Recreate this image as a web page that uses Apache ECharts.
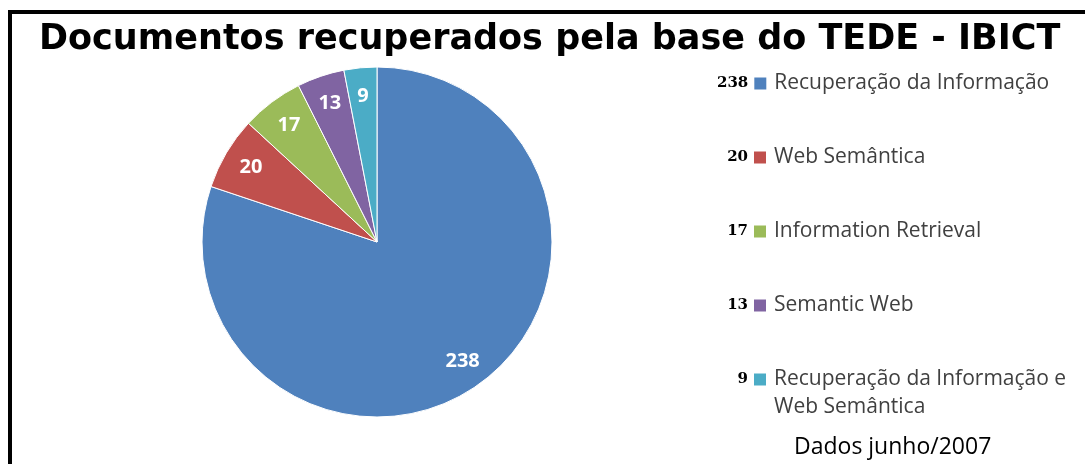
<!DOCTYPE html>
<html>
<head>
<meta charset="utf-8">
<script src="https://cdn.jsdelivr.net/npm/echarts@6/dist/echarts.min.js"></script>
<style>
html, body { margin: 0; padding: 0; background: #fff; overflow: hidden; }
#frame { position: absolute; left: 8px; top: 10px; width: 1100px; height: 470px; border-top: 4px solid #000; border-left: 4px solid #000; }
#chart { position: absolute; left: 0; top: 0; width: 1085px; height: 464px; }
</style>
</head>
<body>
<div id="frame"></div>
<div id="chart"></div>
<script>
var categories = ['Recuperação da Informação', 'Web Semântica', 'Information Retrieval', 'Semantic Web', 'Recuperação da Informação e\nWeb Semântica'];
var values = [238, 20, 17, 13, 9];
var colors = ['#4F81BD', '#C0504D', '#9BBB59', '#8064A2', '#4BACC6'];
var titleText = 'Documentos recuperados pela base do TEDE - IBICT';
var noteText = 'Dados junho/2007';

var chart = echarts.init(document.getElementById('chart'));

// numbers in front of the legend squares are right aligned
var numFont = 'bold 15px "DejaVu Serif"';
var ctx = document.createElement('canvas').getContext('2d');
ctx.font = numFont;
var NUM_BOX = 31;

var pieData = [];
var rich = {
    num: { fontFamily: 'DejaVu Serif', fontWeight: 'bold', fontSize: 15, color: '#000', lineHeight: 28 },
    g6: { width: 6 },
    g8: { width: 8 },
    indent: { width: NUM_BOX + 6 + 12 + 8 },
    name: { fontFamily: 'Open Sans', fontSize: 21, color: '#404040', lineHeight: 28 }
};
for (var i = 0; i < categories.length; i++) {
    pieData.push({ name: categories[i], value: values[i], itemStyle: { color: colors[i] } });
    rich['pad' + i] = { width: Math.max(0, NUM_BOX - ctx.measureText(String(values[i])).width) };
    rich['sq' + i] = { width: 12, height: 12, backgroundColor: colors[i] };
}

var option = {
    backgroundColor: 'transparent',
    animation: false,
    title: [{
        text: titleText,
        left: 34,
        top: 17,
        textStyle: { fontFamily: 'DejaVu Sans', fontWeight: 'bold', fontSize: 35, color: '#000' }
    }, {
        text: noteText,
        left: 789,
        top: 431,
        textStyle: { fontFamily: 'Open Sans', fontWeight: 'normal', fontSize: 23, color: '#000' }
    }],
    legend: {
        orient: 'vertical',
        left: 707,
        top: 68,
        itemGap: 53,
        itemWidth: 0,
        itemHeight: 0,
        icon: 'none',
        selectedMode: false,
        data: categories,
        formatter: function(name) {
            var i = categories.indexOf(name);
            var lines = name.split('\n');
            var s = '{pad' + i + '|}{num|' + values[i] + '}{g6|}{sq' + i + '|}{g8|}{name|' + lines[0] + '}';
            for (var k = 1; k < lines.length; k++) {
                s += '\n{indent|}{name|' + lines[k] + '}';
            }
            return s;
        },
        textStyle: { rich: rich }
    },
    series: [{
        name: 'Documentos',
        type: 'pie',
        center: [377, 242],
        radius: [0, 175],
        startAngle: 90,
        clockwise: true,
        silent: true,
        label: { show: false },
        labelLine: { show: false },
        itemStyle: { borderColor: '#fff', borderWidth: 1 },
        data: pieData
    }, {
        // invisible ring used only to place the value labels near the rim
        name: 'Rotulos',
        type: 'pie',
        center: [377, 242],
        radius: [112, 175],
        startAngle: 90,
        clockwise: true,
        silent: true,
        itemStyle: { color: 'transparent', borderWidth: 0 },
        label: {
            show: true,
            position: 'inside',
            formatter: '{c}',
            color: '#fff',
            fontFamily: 'Open Sans',
            fontWeight: 'bold',
            fontSize: 20
        },
        labelLine: { show: false },
        data: pieData.map(function(d) { return { name: d.name, value: d.value }; })
    }]
};
chart.setOption(option);
</script>
</body>
</html>
